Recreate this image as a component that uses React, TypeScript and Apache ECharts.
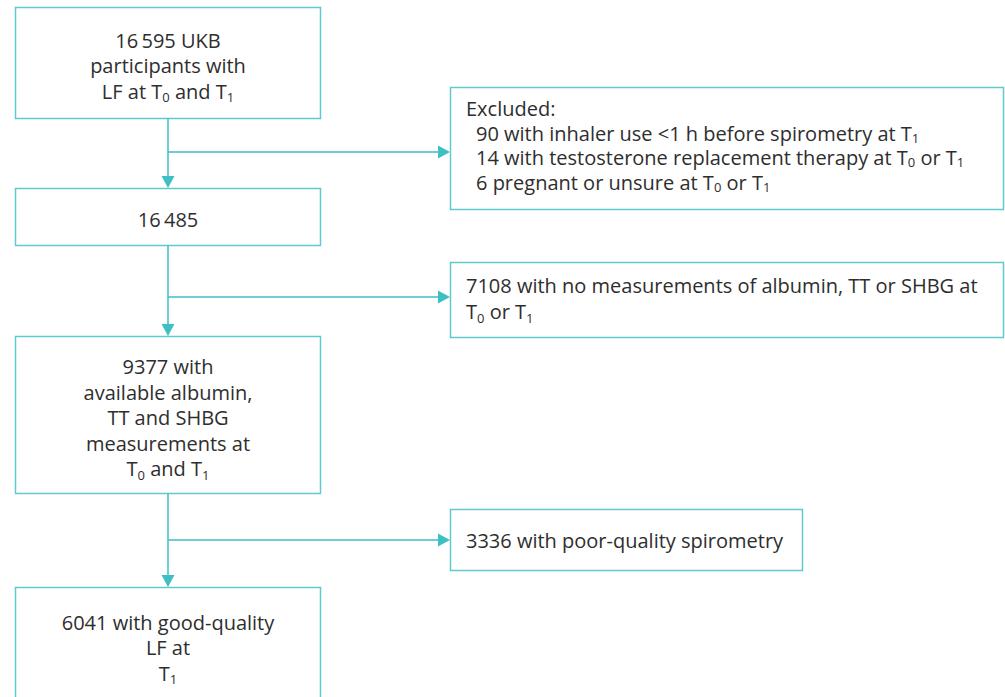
import React, { useEffect, useRef } from "react";
import * as echarts from "echarts";

// ---- data ----
const stageCounts = [16595, 16485, 9377, 6041];
const stageLabels = [
  "# UKB\nparticipants with\nLF at T{s|0} and T{s|1}",
  "#",
  "# with\navailable albumin,\nTT and SHBG\nmeasurements at\nT{s|0} and T{s|1}",
  "# with good-quality\nLF at\nT{s|1}",
];
const exclusionHeaders = ["Excluded:", "", ""];
const exclusionCounts = [[90, 14, 6], [7108], [3336]];
const exclusionReasons = [
  [
    "with inhaler use <1 h before spirometry at T{s|1}",
    "with testosterone replacement therapy at T{s|0} or T{s|1}",
    "pregnant or unsure at T{s|0} or T{s|1}",
  ],
  ["with no measurements of albumin, TT or SHBG at\nT{s|0} or T{s|1}"],
  ["with poor-quality spirometry"],
];

// ---- layout ----
const MAIN_X = 15;
const MAIN_W = 305;
const CX = 168;
const stageBoxY = [
  [7, 118],
  [188, 245],
  [336, 493],
  [587, 702],
];
const exclBoxes = [
  { x: 450, y: 87, w: 553, h: 122 },
  { x: 450, y: 262, w: 553, h: 75 },
  { x: 450, y: 509, w: 352, h: 61 },
];
const branchY = [152, 297, 540];

const BORDER = "#62c9cd";
const ARROW = "#3dbfc4";
const TEXT = "#2e2e2e";
const FONT = "'Open Sans'";
const FS = 20;
const LH = 25.5;

const fmt = (n: number) =>
  n >= 10000 ? String(n).replace(/\B(?=(\d{3})+(?!\d))/g, "\u2009") : String(n);

const rich = {
  s: { fontSize: 13, fontFamily: FONT, fill: TEXT, lineHeight: 14, verticalAlign: "bottom" },
};

export default function App() {
  const ref = useRef<HTMLDivElement>(null);
  useEffect(() => {
    if (!ref.current) return;
    const chart = echarts.init(ref.current, null, { renderer: "svg" });
    const els: any[] = [];
    const textStyle = (text: string, align: string, lh: number = LH) => ({
      text,
      fill: TEXT,
      fontSize: FS,
      fontFamily: FONT,
      align,
      verticalAlign: "middle",
      lineHeight: lh,
      rich,
    });

    // main boxes
    stageBoxY.forEach(([y0, y1], i) => {
      els.push({
        type: "rect",
        shape: { x: MAIN_X + 0.5, y: y0 + 0.5, width: MAIN_W, height: y1 - y0 },
        style: { fill: "#fff", stroke: BORDER, lineWidth: 1.5 },
      });
      els.push({
        type: "text",
        x: CX,
        y: (y0 + y1) / 2 + 3,
        style: textStyle(stageLabels[i].replace("#", fmt(stageCounts[i])), "center"),
      });
    });

    // vertical connectors with down arrows
    for (let i = 0; i < stageBoxY.length - 1; i++) {
      const top = stageBoxY[i][1];
      const bot = stageBoxY[i + 1][0];
      els.push({
        type: "line",
        shape: { x1: CX, y1: top, x2: CX, y2: bot - 10 },
        style: { stroke: ARROW, lineWidth: 1.5 },
      });
      els.push({
        type: "polygon",
        shape: { points: [[CX - 6.5, bot - 12], [CX + 6.5, bot - 12], [CX, bot]] },
        style: { fill: ARROW },
      });
    }

    // horizontal branches and exclusion boxes
    exclBoxes.forEach((b, i) => {
      const y = branchY[i];
      els.push({
        type: "line",
        shape: { x1: CX, y1: y, x2: b.x - 10, y2: y },
        style: { stroke: ARROW, lineWidth: 1.5 },
      });
      els.push({
        type: "polygon",
        shape: { points: [[b.x - 12, y - 6.5], [b.x - 12, y + 6.5], [b.x, y]] },
        style: { fill: ARROW },
      });
      els.push({
        type: "rect",
        shape: { x: b.x + 0.5, y: b.y + 0.5, width: b.w, height: b.h },
        style: { fill: "#fff", stroke: BORDER, lineWidth: 1.5 },
      });
      const header = exclusionHeaders[i];
      const counts = exclusionCounts[i];
      const reasons = exclusionReasons[i];
      if (header) {
        els.push({ type: "text", x: b.x + 16, y: b.y + 21, style: textStyle(header, "left", 22) });
        counts.forEach((c, k) => {
          els.push({
            type: "text",
            x: b.x + 26,
            y: b.y + 46 + k * 24.5,
            style: textStyle(fmt(c) + " " + reasons[k], "left", 22),
          });
        });
      } else if (counts.length === 1 && reasons[0].includes("\n")) {
        els.push({
          type: "text",
          x: b.x + 16,
          y: b.y + b.h / 2 - 1,
          style: textStyle(fmt(counts[0]) + " " + reasons[0], "left"),
        });
      } else {
        els.push({
          type: "text",
          x: b.x + 16,
          y: b.y + b.h / 2 + 1,
          style: textStyle(fmt(counts[0]) + " " + reasons[0], "left", 22),
        });
      }
    });

    chart.setOption({
      animation: false,
      backgroundColor: "#ffffff",
      graphic: { elements: els },
    });
    return () => chart.dispose();
  }, []);
  return (
    <div
      ref={ref}
      style={{ position: "fixed", left: 0, top: 0, width: 1005, height: 697, background: "#fff" }}
    />
  );
}
